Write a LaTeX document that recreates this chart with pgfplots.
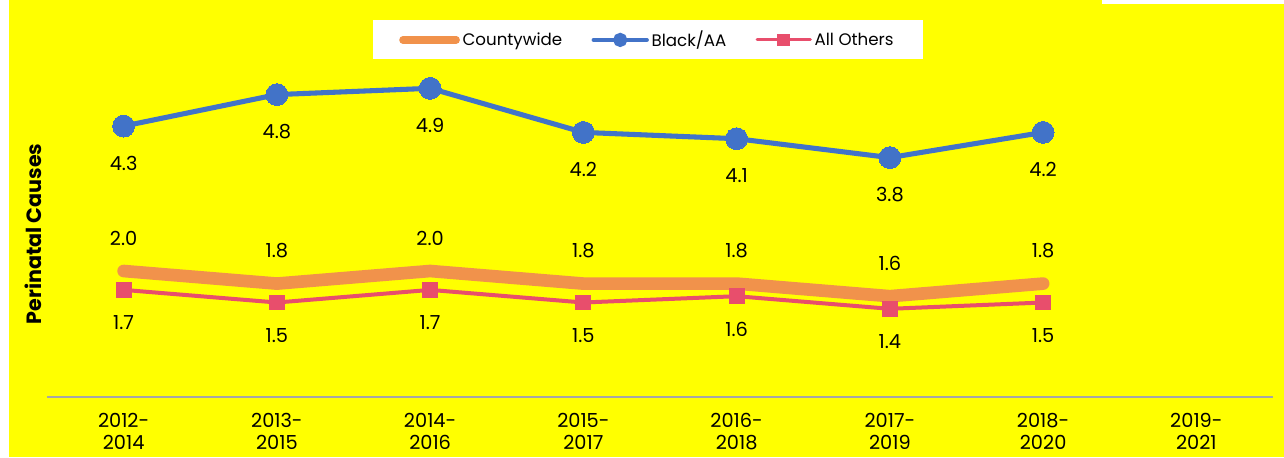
\documentclass[border=0pt]{standalone}
\usepackage{fontspec}
\setmainfont{Poppins}
\usepackage{pgfplots}
\pgfplotsset{compat=1.18}

\definecolor{bgyellow}{HTML}{FFFF00}
\definecolor{cworange}{HTML}{F1924B}
\definecolor{aablue}{HTML}{4273C8}
\definecolor{othpink}{HTML}{E84E6C}
\definecolor{axgray}{HTML}{A6A6A6}

\begin{document}
\begin{tikzpicture}
% page background (1 px = 0.75pt)
\fill[white] (0pt,0pt) rectangle (963pt,342.75pt);
\fill[bgyellow] (6.5pt,0pt) rectangle (963pt,342.75pt);
\fill[white] (826.5pt,339.75pt) rectangle (963pt,342.75pt);

\begin{axis}[
    at={(35.25pt,45pt)}, anchor=south west,
    scale only axis,
    width=919.5pt, height=283.5pt,
    xmin=-0.5, xmax=7.5,
    ymin=0, ymax=6,
    axis x line*=bottom,
    axis y line=none,
    x axis line style={axgray, line width=1.1pt},
    xtick={0,1,2,3,4,5,6,7},
    xticklabels={{2012-\\2014},{2013-\\2015},{2014-\\2016},{2015-\\2017},
                 {2016-\\2018},{2017-\\2019},{2018-\\2020},{2019-\\2021}},
    xticklabel style={align=center, font=\fontsize{14.5}{16.5}\selectfont, yshift=-9pt},
    major tick length=0pt,
    /pgf/number format/assume math mode=true,
    clip=false,
    legend style={
        at={(0.49,0.997)}, anchor=north,
        legend columns=3,
        draw=none, fill=white,
        font=\fontsize{12.5}{14}\selectfont,
        inner xsep=20pt, inner ysep=6pt,
        /tikz/every even column/.append style={column sep=20pt},
    },
    legend cell align=left,
    legend image code/.code={
        \draw[#1,mark=none] (0pt,0pt) -- (40pt,0pt);
        \draw[#1] plot coordinates {(20pt,0pt)};
    },
    nodes near coords={\pgfmathprintnumber[fixed,fixed zerofill,precision=1]{\pgfplotspointmeta}},
    every node near coord/.append style={anchor=center, font=\fontsize{14.5}{16}\selectfont, text=black},
]

% legend entries
\addlegendimage{color=cworange, line width=5.5pt, line cap=round, mark=none}
\addlegendentry{Countywide}
\addlegendimage{color=aablue, line width=3pt, line cap=round, mark=*, mark size=3.8pt, mark options={fill=aablue, draw=aablue}}
\addlegendentry{Black/AA}
\addlegendimage{color=othpink, line width=2.3pt, line cap=round, mark=square*, mark size=3.6pt, mark options={fill=othpink, draw=othpink}}
\addlegendentry{All Others}

% Countywide
\addplot[color=cworange, line width=9.5pt, line cap=round, line join=round, mark=none, forget plot,
    every node near coord/.append style={yshift=24.75pt}]
coordinates {(0,2.0) (1,1.8) (2,2.0) (3,1.8) (4,1.8) (5,1.6) (6,1.8)};

% All Others
\addplot[color=othpink, line width=3pt, mark=square*, mark size=5.6pt,
    mark options={fill=othpink, draw=othpink, line width=0pt}, forget plot,
    every node near coord/.append style={yshift=-24.75pt}]
coordinates {(0,1.7) (1,1.5) (2,1.7) (3,1.5) (4,1.6) (5,1.4) (6,1.5)};

% Black/AA
\addplot[color=aablue, line width=3.8pt, line join=round, mark=*, mark size=8.2pt,
    mark options={fill=aablue, draw=aablue, line width=0pt}, forget plot,
    every node near coord/.append style={yshift=-27.75pt}]
coordinates {(0,4.3) (1,4.8) (2,4.9) (3,4.2) (4,4.1) (5,3.8) (6,4.2)};

\end{axis}

\node[rotate=90, font=\fontsize{15.5}{17}\selectfont\bfseries] at (24.75pt,167.25pt) {Perinatal Causes};
\end{tikzpicture}
\end{document}
